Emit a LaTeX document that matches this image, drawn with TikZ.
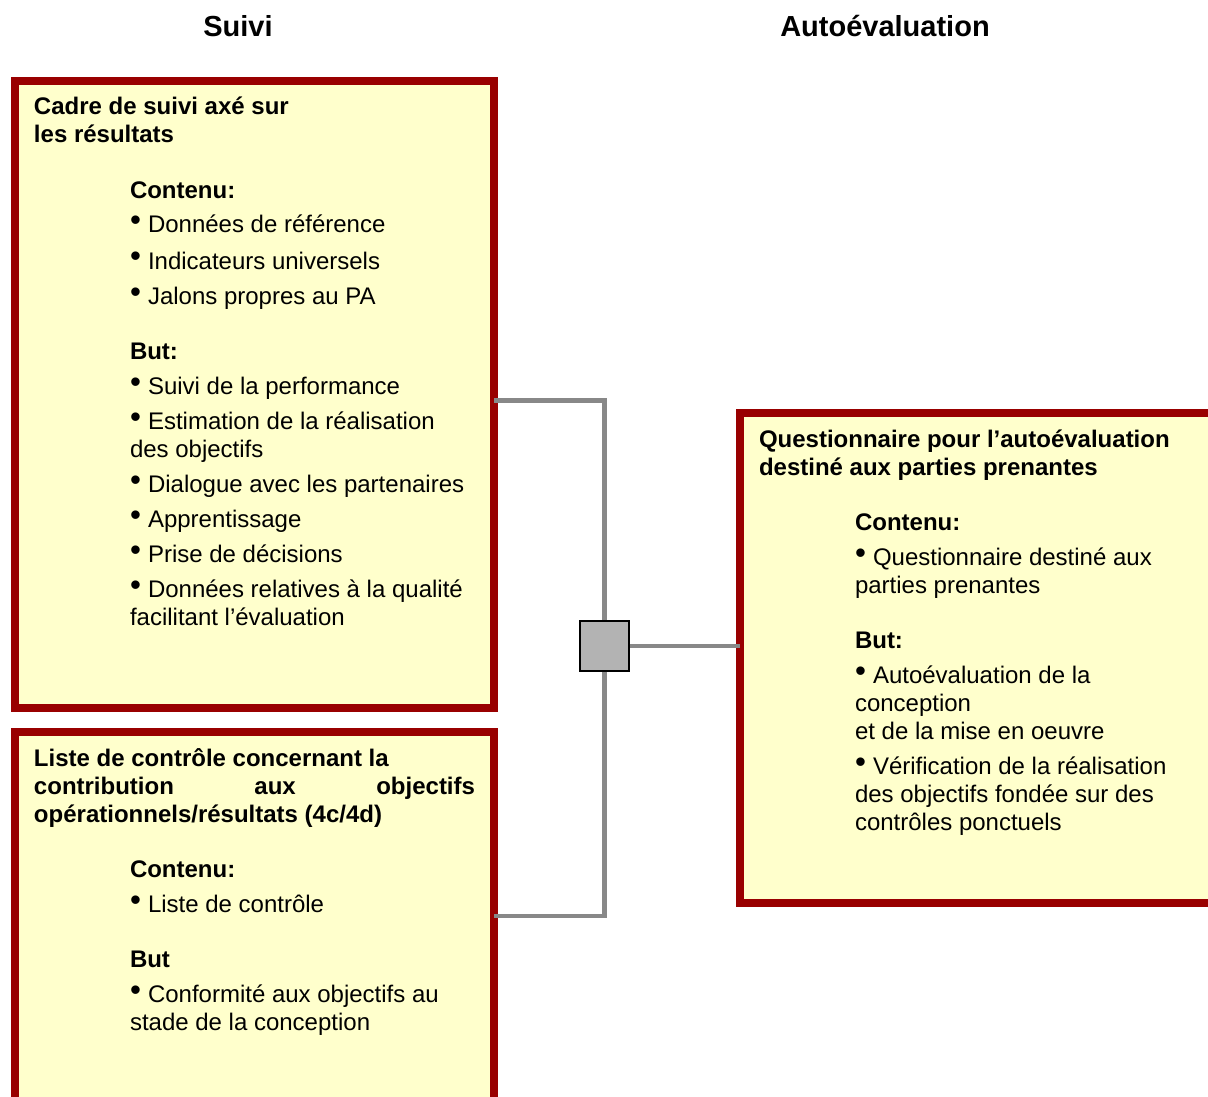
\documentclass[tikz,border=0pt]{standalone}
\usepackage{fontspec}
\setmainfont{Liberation Sans}
\definecolor{boxred}{HTML}{990000}
\definecolor{boxfill}{HTML}{FFFFCC}
\definecolor{linkgray}{HTML}{888888}
\definecolor{hubgray}{HTML}{B3B3B3}
\begin{document}
\begin{tikzpicture}[x=1pt,y=-1pt,
  frame/.style={draw=boxred,fill=boxfill,line width=8pt,rectangle,inner sep=0,outer sep=0,anchor=north west},
  txt/.style={anchor=base west,inner sep=0,outer sep=0,font=\fontsize{24}{28}\selectfont},
  bold/.style={txt,font=\fontsize{24}{28}\selectfont\bfseries},
  head/.style={anchor=base,inner sep=0,font=\fontsize{29}{33}\selectfont\bfseries},
  link/.style={draw=linkgray,line width=4.5pt},
  hub/.style={draw=black,fill=hubgray,line width=1.5pt,rectangle,inner sep=0,minimum width=49pt,minimum height=50pt}]
\newcommand{\bul}{\makebox[18pt][l]{\raisebox{2pt}{\scalebox{1.3}{\textbullet}}}}
\useasboundingbox (0,0) rectangle (1208,1097);
\clip (0,0) rectangle (1208,1097);
\fill[white] (0,0) rectangle (1208,1097);

% headings
\node[head] (h1) at (238,37) {Suivi};
\node[head] (h2) at (885,37) {Autoévaluation};

% boxes
\node[frame,minimum width=479pt,minimum height=627pt] (b1) at (15,81) {};
\node[frame,minimum width=479pt,minimum height=380pt] (b2) at (15,732) {};
\node[frame,minimum width=480pt,minimum height=490pt] (b3) at (740,413) {};

% hub and connectors
\node[hub] (hub) at (604.5,646) {};
\coordinate (c1) at (604.5,400.5);
\coordinate (c2) at (604.5,916);
\draw[link] (b1.east |- c1) -- (c1) -- (hub.north);
\draw[link] (hub.south) -- (c2) -- (b2.east |- c2);
\draw[link] (hub.east) -- (b3.west |- hub.east);

% box 1 text
\node[bold] (t1a) at (34,115) {Cadre de suivi axé sur};
\node[bold] (t1b) at (34,143) {les résultats};
\node[bold] (t1c) at (130,198) {Contenu:};
\node[txt] (t1d) at (130,233) {\bul Données de référence};
\node[txt] (t1e) at (130,269) {\bul Indicateurs universels};
\node[txt] (t1f) at (130,304) {\bul Jalons propres au PA};
\node[bold] (t1g) at (130,359) {But:};
\node[txt] (t1h) at (130,394) {\bul Suivi de la performance};
\node[txt] (t1i) at (130,429) {\bul Estimation de la réalisation};
\node[txt] (t1j) at (130,457) {des objectifs};
\node[txt] (t1k) at (130,492) {\bul Dialogue avec les partenaires};
\node[txt] (t1l) at (130,527) {\bul Apprentissage};
\node[txt] (t1m) at (130,562) {\bul Prise de décisions};
\node[txt] (t1n) at (130,597) {\bul Données relatives à la qualité};
\node[txt] (t1o) at (130,625) {facilitant l’évaluation};

% box 2 text
\node[bold] (t2a) at (34,766) {Liste de contrôle concernant la};
\node[bold] (t2b) at (34,794) {\makebox[441pt][l]{contribution\hfill aux\hfill objectifs}};
\node[bold] (t2c) at (34,822) {opérationnels/résultats (4c/4d)};
\node[bold] (t2d) at (130,877) {Contenu:};
\node[txt] (t2e) at (130,912) {\bul Liste de contrôle};
\node[bold] (t2f) at (130,967) {But};
\node[txt] (t2g) at (130,1002) {\bul Conformité aux objectifs au};
\node[txt] (t2h) at (130,1030) {stade de la conception};

% box 3 text
\node[bold] (t3a) at (759,447) {Questionnaire pour l’autoévaluation};
\node[bold] (t3b) at (759,475) {destiné aux parties prenantes};
\node[bold] (t3c) at (855,530) {Contenu:};
\node[txt] (t3d) at (855,565) {\bul Questionnaire destiné aux};
\node[txt] (t3e) at (855,593) {parties prenantes};
\node[bold] (t3f) at (855,648) {But:};
\node[txt] (t3g) at (855,683) {\bul Autoévaluation de la};
\node[txt] (t3h) at (855,711) {conception};
\node[txt] (t3i) at (855,739) {et de la mise en oeuvre};
\node[txt] (t3j) at (855,774) {\bul Vérification de la réalisation};
\node[txt] (t3k) at (855,802) {des objectifs fondée sur des};
\node[txt] (t3l) at (855,830) {contrôles ponctuels};
\end{tikzpicture}
\end{document}
